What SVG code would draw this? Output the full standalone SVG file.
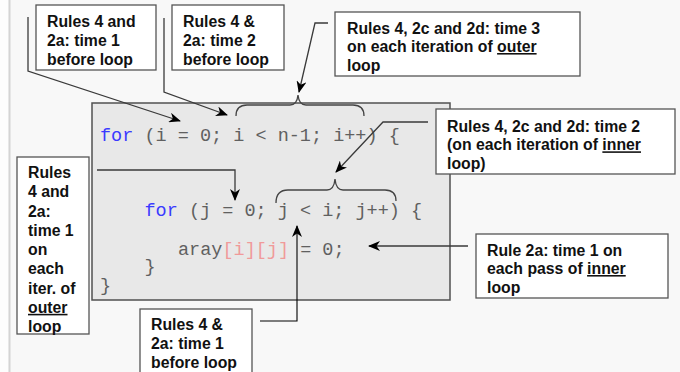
<svg xmlns="http://www.w3.org/2000/svg" width="680" height="372" viewBox="0 0 680 372">
  <defs>
    <style>
      .lbl { font-family: "Liberation Sans", Arial, sans-serif; font-weight: bold; font-size: 15.8px; fill: #111; }
      .box { fill: #ffffff; stroke: #555555; stroke-width: 1.3; }
      .code { font-family: "Liberation Mono", "Courier New", monospace; font-size: 18.5px; fill: #606060; }
      .kw { fill: #3a3aff; }
      .idx { fill: #f09a9a; }
      .wire { fill: none; stroke: #3a3a3a; stroke-width: 1.3; }
      .brace { fill: none; stroke: #444444; stroke-width: 1.3; }
    </style>
    <marker id="arrow" viewBox="0 0 12 10" refX="11" refY="5" markerWidth="12" markerHeight="10" markerUnits="userSpaceOnUse" orient="auto">
      <path d="M0,0 L12,5 L0,10 L3.5,5 Z" fill="#000000"/>
    </marker>
  </defs>

  <!-- page -->
  <rect x="0" y="0" width="680" height="372" fill="#f8f8f8"/>
  <rect x="0" y="0" width="8.5" height="372" fill="#fdfdfd"/>
  <line x1="9.5" y1="0" x2="9.5" y2="372" stroke="#d4d4d4" stroke-width="2"/>

  <!-- code panel -->
  <g id="code">
    <rect x="92" y="103" width="358" height="197" fill="#e8e8e8" stroke="#505050" stroke-width="1.5"/>
    <text class="code" x="100" y="140.5"><tspan class="kw">for</tspan> (i = 0; i &lt; n-1; i++) {</text>
    <text class="code" x="144.5" y="216"><tspan class="kw">for</tspan> (j = 0; j &lt; i; j++) {</text>
    <text class="code" x="178" y="254.5">aray<tspan class="idx">[i][j]</tspan> = 0;</text>
    <text class="code" x="144.5" y="272">}</text>
    <text class="code" x="100" y="291">}</text>
  </g>

  <!-- braces over the loop conditions -->
  <g id="braces">
    <path class="brace" d="M236,116 Q236,105 247,105 L290,105 Q297,105 298,95 Q299,105 306,105 L353,105 Q364,105 364,116"/>
    <path class="brace" d="M276,203 Q276,190 288,190 L327,190 Q334,190 335,179 Q336,190 343,190 L385,190 Q396,190 396,201"/>
  </g>

  <!-- connectors -->
  <g id="connectors">
    <polyline class="wire" points="28,17 28,71 180,121" marker-end="url(#arrow)"/>
    <polyline class="wire" points="164,18 164,92 227,115" marker-end="url(#arrow)"/>
    <polyline class="wire" points="328,23 315,23 299,92" marker-end="url(#arrow)"/>
    <polyline class="wire" points="428,122 383,122 336,172" marker-end="url(#arrow)"/>
    <polyline class="wire" points="97,170 235,170 235,200" marker-end="url(#arrow)"/>
    <polyline class="wire" points="468,246 369,246" marker-end="url(#arrow)"/>
    <polyline fill="none" stroke="#000000" stroke-width="1.1" points="260,321 297,321 297,226" marker-end="url(#arrow)"/>
  </g>

  <g id="outer-init">
    <rect class="box" x="36" y="5" width="120" height="65"/>
    <text class="lbl" x="47" y="27">Rules 4 and</text>
    <text class="lbl" x="47" y="46">2a: time 1</text>
    <text class="lbl" x="47" y="65">before loop</text>
  </g>

  <g id="outer-test-init">
    <rect class="box" x="172" y="5" width="112" height="65"/>
    <text class="lbl" x="183" y="27">Rules 4 &amp;</text>
    <text class="lbl" x="183" y="46">2a: time 2</text>
    <text class="lbl" x="183" y="65">before loop</text>
  </g>

  <g id="outer-iter">
    <rect class="box" x="335" y="12" width="245" height="64"/>
    <text class="lbl" x="347" y="33.5">Rules 4, 2c and 2d: time 3</text>
    <text class="lbl" x="347" y="52">on each iteration of <tspan text-decoration="underline">outer</tspan></text>
    <text class="lbl" x="347" y="70.5">loop</text>
  </g>

  <g id="inner-iter">
    <rect class="box" x="436" y="109" width="239" height="65"/>
    <text class="lbl" x="447" y="131.5">Rules 4, 2c and 2d: time 2</text>
    <text class="lbl" x="447" y="150.3">(on each iteration of <tspan text-decoration="underline">inner</tspan></text>
    <text class="lbl" x="447" y="169">loop)</text>
  </g>

  <g id="inner-body">
    <rect class="box" x="476" y="234" width="192" height="64"/>
    <text class="lbl" x="487" y="255.5">Rule 2a: time 1 on</text>
    <text class="lbl" x="487" y="274">each pass of <tspan text-decoration="underline">inner</tspan></text>
    <text class="lbl" x="487" y="292.5">loop</text>
  </g>

  <g id="inner-init">
    <rect class="box" x="17" y="157" width="72" height="177"/>
    <text class="lbl" x="28" y="178">Rules</text>
    <text class="lbl" x="28" y="197.3">4 and</text>
    <text class="lbl" x="28" y="216.5">2a:</text>
    <text class="lbl" x="28" y="235.8">time 1</text>
    <text class="lbl" x="28" y="255">on</text>
    <text class="lbl" x="28" y="274.3">each</text>
    <text class="lbl" x="28" y="293.5">iter. of</text>
    <text class="lbl" x="28" y="312.8"><tspan text-decoration="underline">outer</tspan></text>
    <text class="lbl" x="28" y="332">loop</text>
  </g>

  <g id="inner-test-init">
    <rect class="box" x="140" y="309" width="112" height="70"/>
    <text class="lbl" x="151" y="330">Rules 4 &amp;</text>
    <text class="lbl" x="151" y="349">2a: time 1</text>
    <text class="lbl" x="151" y="368">before loop</text>
  </g>
</svg>
